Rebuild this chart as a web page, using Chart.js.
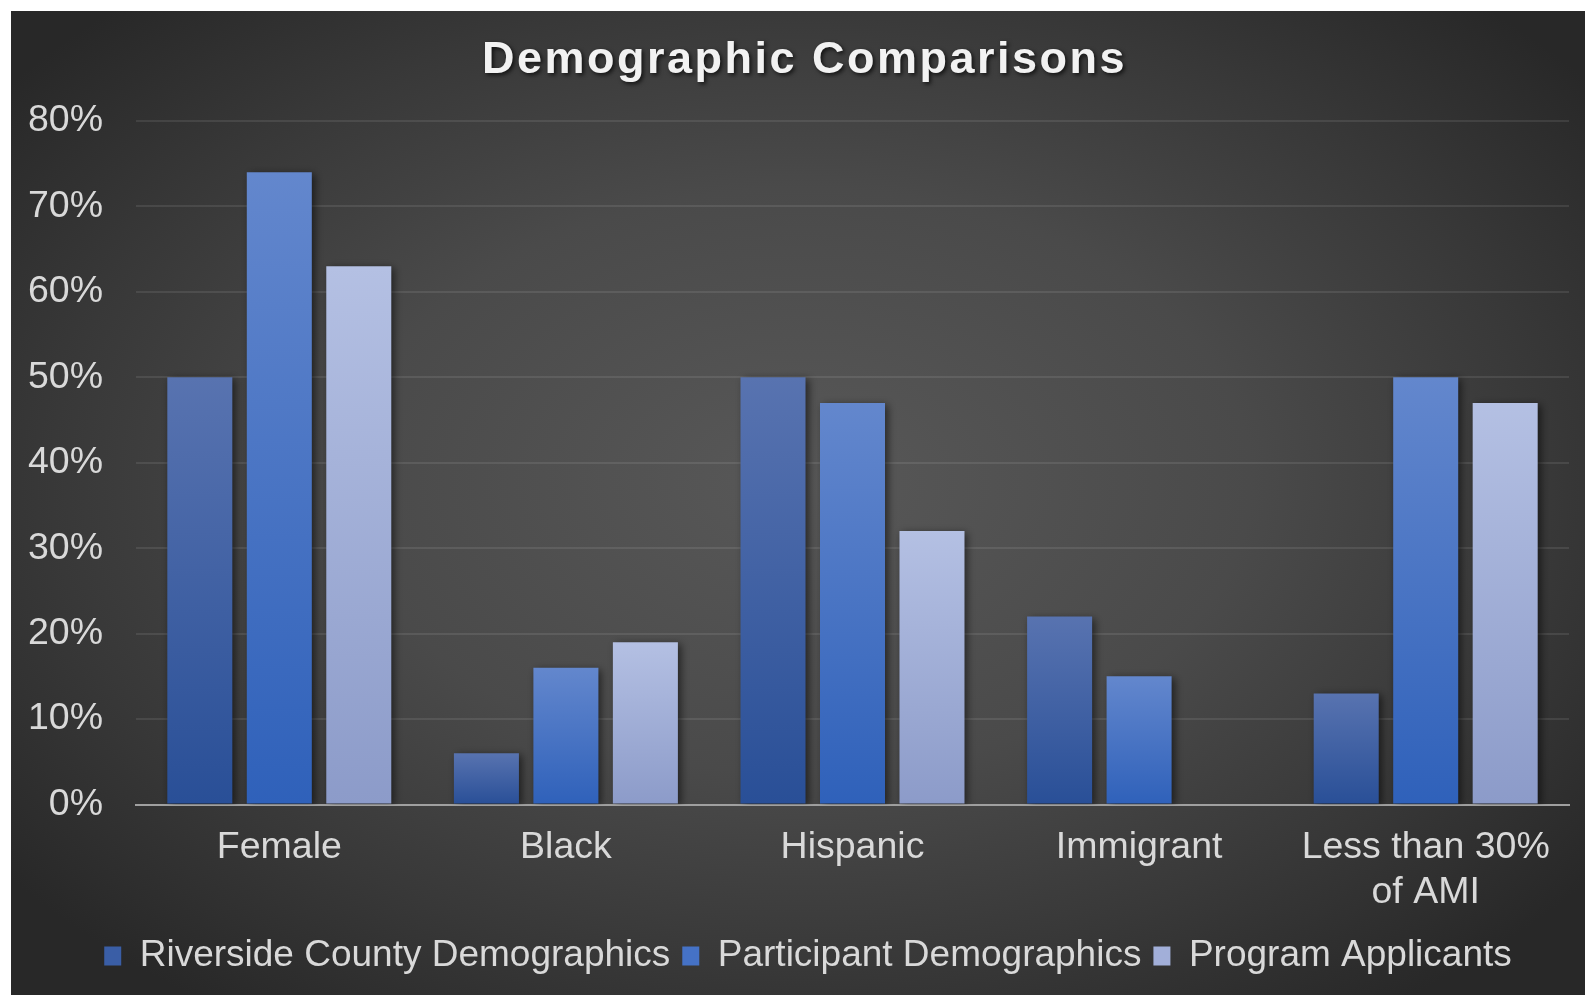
<!DOCTYPE html>
<html>
<head>
<meta charset="utf-8">
<script src="https://cdn.jsdelivr.net/npm/chart.js@4"></script>
<style>
    html, body { margin: 0; padding: 0; background: #fff; overflow: hidden; }
    #wrap { position: absolute; left: 11px; top: 11px; width: 1574px; height: 984px; }
</style>
</head>
<body>
<div id="wrap"><canvas id="chartDemo"></canvas></div>
<script>
const categories = ['Female', 'Black', 'Hispanic', 'Immigrant', ['Less than 30%', 'of AMI']];
const seriesNames = ['Riverside County Demographics', 'Participant Demographics', 'Program Applicants'];
const riverside = [50, 6, 50, 22, 13];
const participants = [74, 16, 47, 15, 50];
const applicants = [63, 19, 32, null, 47];
const yTicks = [0, 10, 20, 30, 40, 50, 60, 70, 80];

const FONT = "'Liberation Sans', Arial, sans-serif";
const TEXT = '#d9d9d9';

// top / bottom colour of each bar's gradient, plus a flat one for the legend
const palette = [
    { top: '#5873b0', bottom: '#294f97', flat: '#3a5ea6' },
    { top: '#6387cd', bottom: '#2f61ba', flat: '#4572c6' },
    { top: '#b4c0e3', bottom: '#8c9bc9', flat: '#a2afd9' }
];

function barGradient(p) {
    return (c) => {
        const chart = c.chart;
        if (!chart.chartArea || c.type !== 'data' || c.raw == null) return p.flat;
        const y = chart.scales.y.getPixelForValue(c.raw);
        const b = chart.scales.y.getPixelForValue(0);
        const g = chart.ctx.createLinearGradient(0, y, 0, b);
        g.addColorStop(0, p.top);
        g.addColorStop(1, p.bottom);
        return g;
    };
}

// wrap a layout box's draw so it can be nudged / styled
function patchBox(chart, box, dx, extra) {
    if (!box || box._patched) return;
    const orig = box.draw.bind(box);
    box.draw = function (area) {
        const c = chart.ctx;
        c.save();
        c.translate(dx, 0);
        if (extra) extra(c);
        orig(area);
        c.restore();
    };
    box._patched = true;
}

const backdrop = {
    id: 'backdrop',
    beforeDraw(chart) {
        const ctx = chart.ctx, w = chart.width, h = chart.height;
        ctx.save();
        ctx.fillStyle = '#282828';
        ctx.fillRect(0, 0, w, h);
        ctx.translate(790, 470);
        ctx.scale(1, 0.65);
        const g = ctx.createRadialGradient(0, 0, 0, 0, 0, 1000);
        g.addColorStop(0, '#585858');
        g.addColorStop(0.45, '#4a4a4a');
        g.addColorStop(0.75, '#383838');
        g.addColorStop(1, '#282828');
        ctx.fillStyle = g;
        ctx.fillRect(-1000, -1600, 2000, 3200);
        ctx.restore();

        patchBox(chart, chart.titleBlock, 14.5, c => {
            c.letterSpacing = '2.5px';
            c.shadowColor = 'rgba(0,0,0,0.7)';
            c.shadowBlur = 4;
            c.shadowOffsetX = 2;
            c.shadowOffsetY = 2;
        });
        patchBox(chart, chart.legend, 18);
    }
};

const barShadow = {
    id: 'barShadow',
    beforeDatasetsDraw(chart) {
        const ctx = chart.ctx;
        ctx.save();
        ctx.shadowColor = 'rgba(0,0,0,0.55)';
        ctx.shadowBlur = 8;
        ctx.shadowOffsetX = 3;
        ctx.shadowOffsetY = 2;
    },
    afterDatasetsDraw(chart) {
        chart.ctx.restore();
    }
};

const seriesData = [riverside, participants, applicants];

const chart = new Chart(document.getElementById('chartDemo').getContext('2d'), {
    type: 'bar',
    data: {
        labels: categories,
        datasets: seriesNames.map((name, i) => ({
            label: name,
            data: seriesData[i],
            backgroundColor: barGradient(palette[i]),
            borderWidth: 0,
            categoryPercentage: 0.832,
            barPercentage: 0.818
        }))
    },
    plugins: [backdrop, barShadow],
    options: {
        responsive: true,
        maintainAspectRatio: false,
        animation: false,
        layout: { padding: { left: 0, right: 16, top: 0, bottom: 10.5 } },
        plugins: {
            title: {
                display: true,
                text: 'Demographic Comparisons',
                color: '#f2f2f2',
                font: { family: FONT, size: 45, weight: 'bold' },
                padding: { top: 22.5, bottom: 33.5 }
            },
            legend: {
                position: 'bottom',
                labels: {
                    color: TEXT,
                    font: { family: FONT, size: 37 },
                    boxWidth: 17,
                    boxHeight: 19,
                    padding: 12,
                    generateLabels(chart) {
                        return Chart.defaults.plugins.legend.labels.generateLabels(chart).map((l, i) => {
                            l.fillStyle = palette[i].flat;
                            l.strokeStyle = palette[i].flat;
                            l.lineWidth = 0;
                            return l;
                        });
                    }
                }
            },
            tooltip: { enabled: false }
        },
        scales: {
            x: {
                grid: { display: false, drawTicks: false },
                border: { display: true, color: '#a0a0a0', width: 2 },
                ticks: { color: TEXT, font: { family: FONT, size: 37.5 }, padding: 20.5, maxRotation: 0 },
                afterFit(axis) { axis.height = 121; }
            },
            y: {
                min: 0,
                max: 80,
                afterBuildTicks(axis) { axis.ticks = yTicks.map(v => ({ value: v })); },
                afterFit(axis) { axis.width = 125; },
                grid: { color: 'rgba(255,255,255,0.09)', lineWidth: 2, drawTicks: false },
                border: { display: false },
                ticks: {
                    color: TEXT,
                    font: { family: FONT, size: 37.5 },
                    padding: 33,
                    callback: v => v + '%'
                }
            }
        }
    }
});
</script>
</body>
</html>
